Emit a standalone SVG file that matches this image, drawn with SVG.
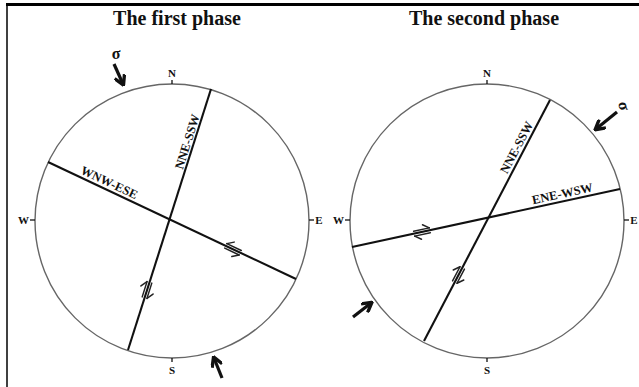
<svg xmlns="http://www.w3.org/2000/svg" width="639" height="387" viewBox="0 0 639 387">
<defs>
<style>
.title{font-family:"Liberation Serif","Times New Roman",serif;font-weight:bold;font-size:20px;fill:#111;text-anchor:middle}
.dir{font-family:"Liberation Serif","Times New Roman",serif;font-weight:bold;font-size:11px;fill:#111;text-anchor:middle}
.lbl{font-family:"Liberation Serif","Times New Roman",serif;font-weight:bold;font-size:12.5px;fill:#111;text-anchor:middle}
.circ{fill:none;stroke:#666;stroke-width:1.4}
.tick{stroke:#111;stroke-width:1.3}
.fault{stroke:#111;stroke-width:2.1;fill:none}
.shear{stroke:#222;stroke-width:1.5;fill:none;stroke-linecap:round}
.sig{stroke:#111;stroke-width:3.2;fill:none}
.sigma{font-family:"Liberation Serif","Times New Roman",serif;font-weight:bold;font-size:16px;fill:#111;text-anchor:middle}
</style>
<marker id="ah" viewBox="0 0 10 10" refX="8" refY="5" markerWidth="12" markerHeight="12" markerUnits="userSpaceOnUse" orient="auto">
<path d="M1,0.5 L9,5 L1,9.5" fill="none" stroke="#111" stroke-width="2.8"/>
</marker>
<g id="sh">
<line x1="-8" y1="-2.5" x2="8" y2="-2.5"/><line x1="8" y1="-2.5" x2="2" y2="-7"/>
<line x1="-8" y1="2.5" x2="8" y2="2.5"/><line x1="-8" y1="2.5" x2="-2" y2="7"/>
</g>
</defs>
<rect width="639" height="387" fill="#fff"/>
<line x1="6" y1="4.5" x2="639" y2="4.5" stroke="#000" stroke-width="3"/>
<line x1="7" y1="3" x2="7" y2="387" stroke="#000" stroke-width="1.5"/>

<text class="title" x="177" y="25">The first phase</text>
<text class="title" x="484" y="25">The second phase</text>

<g id="phase1">
<circle class="circ" cx="172" cy="221" r="137"/>
<line class="tick" x1="172" y1="80" x2="172" y2="84"/>
<line class="tick" x1="172" y1="358" x2="172" y2="362"/>
<line class="tick" x1="30" y1="220" x2="35" y2="220"/>
<line class="tick" x1="309" y1="220" x2="314" y2="220"/>
<text class="dir" x="172" y="77">N</text>
<text class="dir" x="172" y="374">S</text>
<text class="dir" x="23.5" y="224">W</text>
<text class="dir" x="319" y="224">E</text>
</g>

<g id="phase2">
<circle class="circ" cx="487" cy="221" r="137"/>
<line class="tick" x1="487" y1="80" x2="487" y2="84"/>
<line class="tick" x1="487" y1="358" x2="487" y2="362"/>
<line class="tick" x1="345" y1="220" x2="350" y2="220"/>
<line class="tick" x1="624" y1="220" x2="629" y2="220"/>
<text class="dir" x="487" y="77">N</text>
<text class="dir" x="487" y="374">S</text>
<text class="dir" x="338.5" y="224">W</text>
<text class="dir" x="634" y="224">E</text>
</g>

<g id="connectors">
<line class="fault" x1="211" y1="89" x2="128" y2="350"/>
<line class="fault" x1="48" y1="162" x2="296" y2="279"/>
<line class="fault" x1="550" y1="100" x2="424" y2="341"/>
<line class="fault" x1="352" y1="247" x2="620" y2="189"/>
</g>

<g id="labels">
<g transform="translate(106,189.4) rotate(25.3)"><text class="lbl" x="0" y="-3.5">WNW-ESE</text></g>
<g transform="translate(194.6,144) rotate(-72.4)"><text class="lbl" x="0" y="-3.5">NNE-SSW</text></g>
<g transform="translate(523.4,151) rotate(-62.4)"><text class="lbl" x="0" y="-3.5">NNE-SSW</text></g>
<g transform="translate(564,201.1) rotate(-12.2)"><text class="lbl" x="0" y="-3.5">ENE-WSW</text></g>
</g>

<g id="shears" class="shear">
<use href="#sh" transform="translate(233,249.3) rotate(25.3) scale(-1,1)"/>
<use href="#sh" transform="translate(147,290) rotate(-72.4)"/>
<use href="#sh" transform="translate(422,232) rotate(-12.2)"/>
<use href="#sh" transform="translate(458.5,275) rotate(-62.4)"/>
</g>

<g id="stress">
<line class="sig" x1="114" y1="64" x2="123" y2="84" marker-end="url(#ah)"/>
<text class="sigma" x="116" y="59">σ</text>
<line class="sig" x1="222" y1="378" x2="214" y2="358" marker-end="url(#ah)"/>
<line class="sig" x1="617" y1="112" x2="596" y2="129" marker-end="url(#ah)"/>
<text class="sigma" transform="translate(623,106) rotate(80)" x="0" y="4">σ</text>
<line class="sig" x1="353" y1="317" x2="371" y2="303" marker-end="url(#ah)"/>
</g>
</svg>
